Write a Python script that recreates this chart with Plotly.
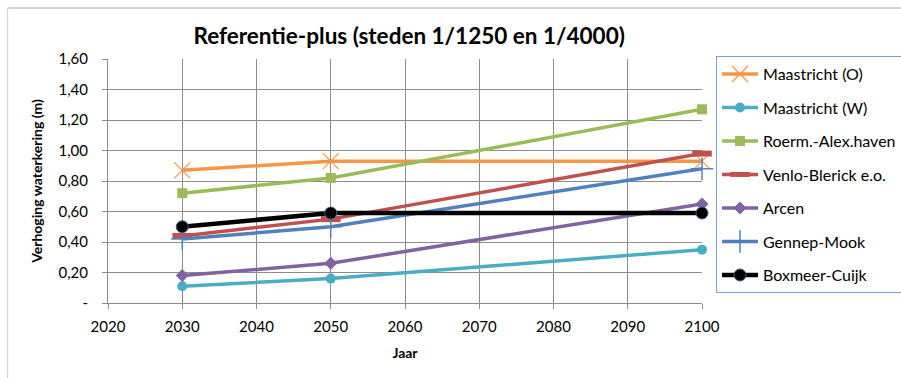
import plotly.graph_objects as go

# Jaartallen en verhoging per locatie (m)
jaren = [2030, 2050, 2100]
maastricht_o = [0.87, 0.93, 0.93]
maastricht_w = [0.11, 0.16, 0.35]
roermond_alex = [0.72, 0.82, 1.27]
venlo_blerick = [0.44, 0.55, 0.98]
arcen = [0.18, 0.26, 0.65]
gennep_mook = [0.42, 0.50, 0.88]
boxmeer_cuijk = [0.50, 0.59, 0.59]

y_ticks = [0, 0.2, 0.4, 0.6, 0.8, 1.0, 1.2, 1.4, 1.6]
y_ticktext = ["-", "0,20", "0,40", "0,60", "0,80", "1,00", "1,20", "1,40", "1,60"]
x_ticks = [2020, 2030, 2040, 2050, 2060, 2070, 2080, 2090, 2100]

FONT = "Lato, 'DejaVu Sans', sans-serif"

series = [
    ("Maastricht (O)", maastricht_o, "#F79646", 3.5,
     dict(symbol="x-thin", size=16, line=dict(color="#F79646", width=1.2))),
    ("Maastricht (W)", maastricht_w, "#4BACC6", 3.5,
     dict(symbol="circle", size=10, color="#4BACC6")),
    ("Roerm.-Alex.haven", roermond_alex, "#9BBB59", 3.5,
     dict(symbol="square", size=10, color="#9BBB59")),
    ("Venlo-Blerick e.o.", venlo_blerick, "#C0504D", 3.5,
     dict(symbol="line-ew", size=14, line=dict(color="#C0504D", width=6))),
    ("Arcen", arcen, "#8064A2", 3.5,
     dict(symbol="diamond", size=10, color="#8064A2")),
    ("Gennep-Mook", gennep_mook, "#4F81BD", 3.5,
     dict(symbol="cross-thin", size=16, line=dict(color="#4F81BD", width=1.5))),
    ("Boxmeer-Cuijk", boxmeer_cuijk, "#000000", 4.5,
     dict(symbol="circle", size=12, color="#000000",
          line=dict(color="#385D8A", width=1))),
]

fig = go.Figure()
for i, (naam, waarden, kleur, dikte, marker) in enumerate(series):
    fig.add_trace(go.Scatter(
        x=jaren, y=waarden, name=naam, mode="lines+markers",
        line=dict(color=kleur, width=dikte), marker=marker,
        legendgroup=f"g{i}", cliponaxis=False,
    ))

grid = "#8C8C8C"
fig.update_layout(
    width=901, height=378,
    margin=dict(l=108, r=199, t=59, b=75, autoexpand=False),
    paper_bgcolor="white", plot_bgcolor="white",
    font=dict(family=FONT, color="#000000", size=14),
    title=dict(text="<b>Referentie-plus (steden 1/1250 en 1/4000)</b>",
               x=0.507, xref="paper", xanchor="center",
               y=0.904, yref="container", yanchor="middle",
               font=dict(size=22.5, family=FONT)),
    xaxis=dict(range=[2020, 2100], tickvals=x_ticks, showgrid=True,
               gridcolor=grid, gridwidth=1, showline=True, linecolor=grid,
               ticks="outside", ticklen=5, tickcolor=grid, zeroline=False,
               tickfont=dict(size=15), ticklabelstandoff=5,
               title=dict(text="<b>Jaar</b>", font=dict(size=14), standoff=14)),
    yaxis=dict(range=[0, 1.6], tickvals=y_ticks, ticktext=y_ticktext,
               showgrid=True, gridcolor=grid, gridwidth=1, showline=True,
               linecolor=grid, ticks="outside", ticklen=5, tickcolor=grid,
               zeroline=False, tickfont=dict(size=15), ticklabelstandoff=11,
               title=dict(text="<b>Verhoging waterkering (m)</b>",
                          font=dict(size=14), standoff=12)),
    legend=dict(x=1.0236, y=1.012, xanchor="left", yanchor="top",
                bgcolor="white", bordercolor="#7F9FCF", borderwidth=1,
                font=dict(size=16, family=FONT), tracegroupgap=9.7,
                traceorder="grouped", itemwidth=36, maxheight=300),
    shapes=[
        dict(type="line", xref="paper", yref="paper",
             x0=-0.169, x1=1.4, y0=1.209, y1=1.209,
             line=dict(color="#A6A6A6", width=1)),
        dict(type="line", xref="paper", yref="paper",
             x0=-0.169, x1=-0.169, y0=1.209, y1=-0.4,
             line=dict(color="#D0D0D0", width=1)),
    ],
)

fig.write_html("out.html")
